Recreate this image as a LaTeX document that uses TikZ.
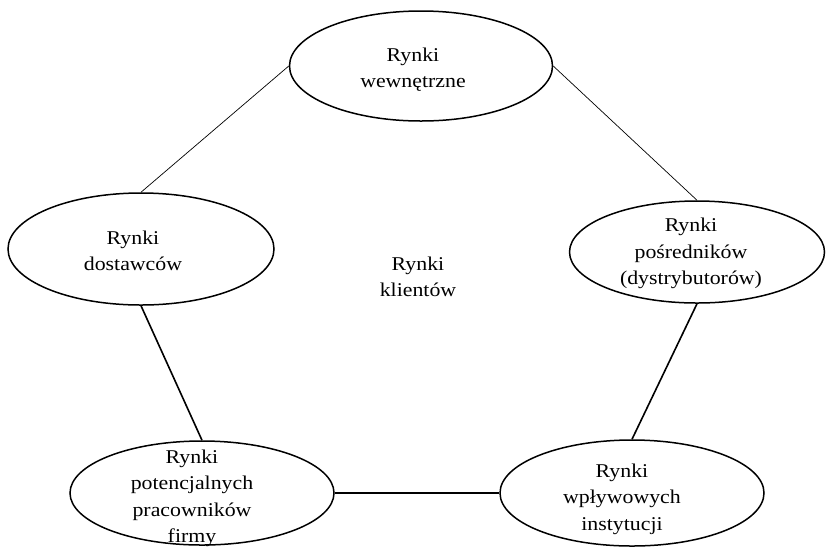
\documentclass[tikz,border=0pt]{standalone}
\usepackage{fontspec}
\setmainfont{Liberation Serif}[FakeStretch=1.12]
\usetikzlibrary{shapes.geometric}
\begin{document}
\begin{tikzpicture}[x=1pt,y=-1pt,
  market/.style={draw,ellipse,line width=1.5pt,inner sep=0pt},
  lbl/.style={align=center,inner sep=0pt,font=\fontsize{19.5}{26.5}\selectfont},
  thinline/.style={line width=0.7pt},
  thickline/.style={line width=1.6pt}]
\useasboundingbox (0,0) rectangle (826,547);
\node[market,minimum width=263pt,minimum height=110pt] (T) at (421,66) {};
\node[market,minimum width=266pt,minimum height=112pt] (L) at (141,249) {};
\node[market,minimum width=255pt,minimum height=102pt] (R) at (697,252) {};
\node[market,minimum width=264pt,minimum height=104pt] (BL) at (202,493) {};
\node[market,minimum width=264pt,minimum height=106pt] (BR) at (632,493) {};
\node[lbl] (Tt) at (413,69.5) {Rynki\\wewnętrzne};
\node[lbl] (Lt) at (133,251) {Rynki\\dostawców};
\node[lbl] (Rt) at (691,253.5) {Rynki\\pośredników\\(dystrybutorów)};
\node[lbl] (BLt) at (192,498.5) {Rynki\\potencjalnych\\pracowników\\firmy};
\node[lbl] (BRt) at (622,499) {Rynki\\wpływowych\\instytucji};
\node[lbl] (C) at (418,277) {Rynki\\klientów};
\draw[thinline] (L.north) -- (T.west);
\draw[thinline] (T.east) -- (R.north);
\draw[thickline] (L.south) -- (BL.north);
\draw[thickline] (R.south) -- (BR.north);
\draw[thickline] (BL.east) -- (BR.west);
\end{tikzpicture}
\end{document}
